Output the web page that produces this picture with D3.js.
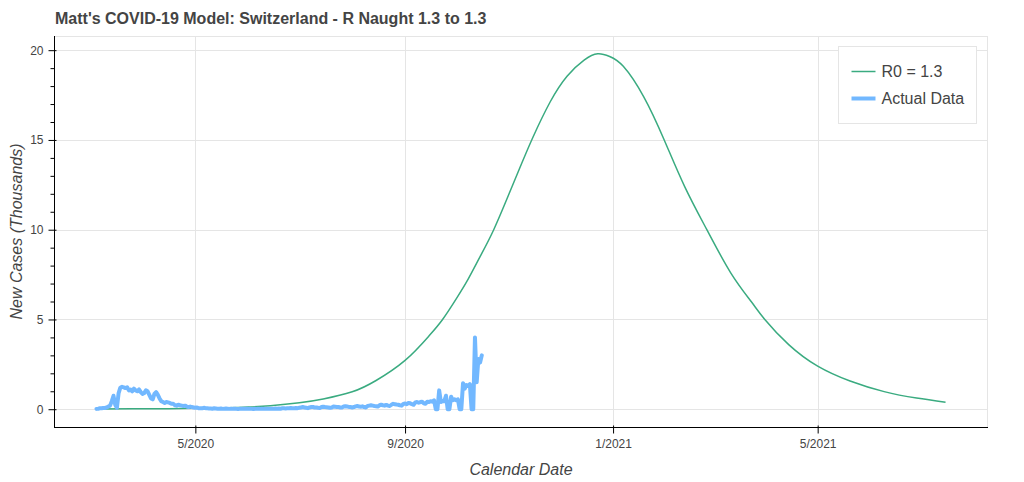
<!DOCTYPE html>
<html>
<head>
<meta charset="utf-8">
<script src="https://cdn.jsdelivr.net/npm/d3@7"></script>
<style>
  html, body { margin: 0; padding: 0; background: #fff; }
  svg { display: block; }
  text { font-family: "Liberation Sans", Arial, Helvetica, sans-serif; }
</style>
</head>
<body>
<svg id="chart" width="1024" height="482"></svg>
<script>
// ---------------- DATA ----------------
const titleText = "Matt's COVID-19 Model: Switzerland - R Naught 1.3 to 1.3";
const xLabel = "Calendar Date";
const yLabel = "New Cases (Thousands)";
const seriesNames = ["R0 = 1.3", "Actual Data"];

// Model curve (thousands of new cases)
const modelDates = [
  "2020-03-04","2020-03-25","2020-04-15","2020-05-01","2020-05-20","2020-06-01",
  "2020-06-14","2020-07-01","2020-07-15","2020-08-01","2020-08-15","2020-09-01",
  "2020-09-15","2020-09-23","2020-10-01","2020-10-08","2020-10-15","2020-10-23",
  "2020-11-01","2020-11-08","2020-11-15","2020-11-25","2020-12-05","2020-12-15",
  "2020-12-23","2020-12-30","2021-01-07","2021-01-19","2021-01-31","2021-02-12",
  "2021-02-25","2021-03-11","2021-03-23","2021-03-31","2021-04-14","2021-05-01",
  "2021-05-20","2021-06-09","2021-06-28","2021-07-15"
];
const modelValues = [
  0.01, 0.02, 0.03, 0.05, 0.08, 0.12,
  0.2, 0.36, 0.57, 0.97, 1.6, 2.72,
  4.08, 5.0, 6.15, 7.25, 8.5, 10.0,
  12.0, 13.6, 15.15, 17.1, 18.55, 19.45,
  19.8, 19.65, 19.1, 17.4, 15.0, 12.4,
  10.0, 7.6, 6.0, 5.0, 3.6, 2.4,
  1.57, 0.98, 0.62, 0.39
];

// Actual daily data (thousands), one value per day starting at actualStart
const actualStart = "2020-03-04";
const actualValues = [
  // March 4-31
  0.02,0.03,0.05,0.05,0.07,0.07,0.1,0.15,0.2,0.45,0.75,0.25,0.08,0.9,1.2,1.25,1.22,1.18,1.22,1.05,1.1,1.0,1.15,1.05,1.0,1.1,0.95,0.85,
  // April
  0.9,1.05,1.0,0.8,0.6,0.55,0.85,0.95,0.8,0.6,0.45,0.4,0.35,0.4,0.38,0.35,0.3,0.3,0.22,0.2,0.25,0.22,0.2,0.18,0.2,0.15,0.12,0.15,0.12,0.1,
  // May
  0.08,0.1,0.05,0.06,0.05,0.08,0.06,0.05,0.04,0.04,0.03,0.05,0.04,0.03,0.03,0.04,0.02,0.03,0.04,0.03,0.02,0.03,0.02,0.02,0.02,0.01,0.02,0.02,0.03,0.02,0.02,
  // June
  0.02,0.03,0.02,0.01,0.03,0.02,0.02,0.02,0.03,0.02,0.03,0.02,0.02,0.03,0.03,0.02,0.04,0.03,0.04,0.03,0.05,0.05,0.04,0.06,0.05,0.07,0.06,0.06,0.07,0.06,
  // July
  0.08,0.1,0.12,0.1,0.08,0.06,0.1,0.12,0.13,0.09,0.1,0.08,0.07,0.12,0.14,0.12,0.11,0.1,0.08,0.1,0.15,0.14,0.13,0.12,0.1,0.1,0.15,0.17,0.15,0.13,0.12,
  // August
  0.1,0.12,0.16,0.18,0.15,0.14,0.16,0.12,0.1,0.18,0.2,0.22,0.2,0.18,0.17,0.15,0.22,0.25,0.22,0.2,0.24,0.2,0.18,0.25,0.3,0.28,0.26,0.25,0.22,0.2,0.3,
  // September
  0.32,0.28,0.35,0.33,0.28,0.25,0.38,0.4,0.36,0.4,0.42,0.33,0.3,0.42,0.4,0.45,0.42,0.5,0.0,0.0,1.05,0.4,0.45,0.45,0.75,0.0,0.0,0.7,0.5,0.55,
  // October 1-16
  0.5,0.55,0.0,0.0,1.45,1.15,1.35,1.3,1.4,0.0,0.0,4.0,1.5,2.8,2.6,3.0
];

const xTickDates = ["2020-05-01","2020-09-01","2021-01-01","2021-05-01"];
const yMajorTicks = [0, 5, 10, 15, 20];

// ---------------- LAYOUT ----------------
const plot = { left: 54, right: 988, top: 36, bottom: 427 };
const colors = { model: "#3aab80", actual: "#72b8ff", grid: "#e5e5e5", text: "#444444" };

const parse = d3.utcParse("%Y-%m-%d");
const model = modelDates.map((d, i) => ({ date: parse(d), value: modelValues[i] }));
const start = parse(actualStart);
const actual = actualValues.map((v, i) => ({ date: d3.utcDay.offset(start, i), value: v }));

const allDates = model.map(d => d.date).concat(actual.map(d => d.date));
const allVals = model.map(d => d.value).concat(actual.map(d => d.value));
const [dMin, dMax] = d3.extent(allDates);
const [vMin, vMax] = d3.extent(allVals);
const dPad = (dMax - dMin) * 0.05;
const vPad = (vMax - vMin) * 0.05;

const x = d3.scaleUtc()
  .domain([new Date(+dMin - dPad), new Date(+dMax + dPad)])
  .range([plot.left, plot.right]);
const y = d3.scaleLinear()
  .domain([vMin - vPad, vMax + vPad])
  .range([plot.bottom, plot.top]);

const svg = d3.select("#chart");

// Title
svg.append("text")
  .attr("x", 55).attr("y", 24)
  .attr("font-size", 16).attr("font-weight", "bold")
  .attr("fill", colors.text)
  .text(titleText);

// Outline
svg.append("rect")
  .attr("x", plot.left + 0.5).attr("y", plot.top + 0.5)
  .attr("width", plot.right - plot.left - 1).attr("height", plot.bottom - plot.top)
  .attr("fill", "none").attr("stroke", colors.grid);

// Grid
const xTicks = xTickDates.map(parse);
svg.append("g").selectAll("line").data(xTicks).join("line")
  .attr("x1", d => Math.round(x(d)) + 0.5).attr("x2", d => Math.round(x(d)) + 0.5)
  .attr("y1", plot.top).attr("y2", plot.bottom)
  .attr("stroke", colors.grid);
svg.append("g").selectAll("line").data(yMajorTicks).join("line")
  .attr("x1", plot.left).attr("x2", plot.right)
  .attr("y1", d => Math.round(y(d)) + 0.5).attr("y2", d => Math.round(y(d)) + 0.5)
  .attr("stroke", colors.grid);

// Lines
svg.append("clipPath").attr("id", "clip").append("rect")
  .attr("x", plot.left).attr("y", plot.top)
  .attr("width", plot.right - plot.left).attr("height", plot.bottom - plot.top);

svg.append("path")
  .datum(model)
  .attr("clip-path", "url(#clip)")
  .attr("fill", "none").attr("stroke", colors.model).attr("stroke-width", 1.5)
  .attr("d", d3.line().x(d => x(d.date)).y(d => y(d.value)).curve(d3.curveNatural));

svg.append("path")
  .datum(actual)
  .attr("clip-path", "url(#clip)")
  .attr("fill", "none").attr("stroke", colors.actual).attr("stroke-width", 4)
  .attr("stroke-linejoin", "round").attr("stroke-linecap", "round")
  .attr("d", d3.line().x(d => x(d.date)).y(d => y(d.value)));

// X axis
const fmt = d => `${d.getUTCMonth() + 1}/${d.getUTCFullYear()}`;
const xAxis = svg.append("g")
  .attr("transform", `translate(0,${plot.bottom + 0.5})`)
  .call(d3.axisBottom(x).tickValues(xTicks).tickFormat(fmt).tickSizeInner(6).tickSizeOuter(0).tickPadding(6));
xAxis.select(".domain").attr("d", `M${plot.left},0H${plot.right}`).attr("stroke", "#000");
xAxis.selectAll(".tick line").attr("y1", -2).attr("y2", 6).attr("stroke", "#000");
xAxis.selectAll(".tick text").attr("font-size", 12).attr("fill", colors.text)
  .attr("font-family", "'Liberation Sans', Arial, sans-serif");

// Y axis
const yMinor = d3.range(Math.ceil(y.domain()[0]), Math.floor(y.domain()[1]) + 1).filter(v => v % 5 !== 0);
const yAxis = svg.append("g")
  .attr("transform", `translate(${plot.left + 0.5},0)`)
  .call(d3.axisLeft(y).tickValues(yMajorTicks).tickSizeInner(6).tickSizeOuter(0).tickPadding(5));
yAxis.select(".domain").attr("d", `M0,${plot.top}V${plot.bottom}`).attr("stroke", "#000");
yAxis.selectAll(".tick line").attr("x1", 2).attr("x2", -6).attr("stroke", "#000");
yAxis.selectAll(".tick text").attr("font-size", 12).attr("fill", colors.text)
  .attr("font-family", "'Liberation Sans', Arial, sans-serif");
const yMinorAxis = svg.append("g")
  .attr("transform", `translate(${plot.left + 0.5},0)`)
  .call(d3.axisLeft(y).tickValues(yMinor).tickSize(4).tickFormat(""));
yMinorAxis.select(".domain").remove();
yMinorAxis.selectAll(".tick line").attr("stroke", "#000");

// Axis labels
svg.append("text")
  .attr("x", (plot.left + plot.right) / 2).attr("y", 475)
  .attr("text-anchor", "middle").attr("font-size", 16).attr("font-style", "italic")
  .attr("fill", colors.text).text(xLabel);
svg.append("text")
  .attr("transform", `translate(22,${(plot.top + plot.bottom) / 2}) rotate(-90)`)
  .attr("text-anchor", "middle").attr("font-size", 16).attr("font-style", "italic")
  .attr("fill", colors.text).text(yLabel);

// Legend
const lg = svg.append("g").attr("transform", "translate(838.5,46.5)");
lg.append("rect").attr("width", 138).attr("height", 77)
  .attr("fill", "#fff").attr("stroke", colors.grid);
const legendItems = [
  { name: seriesNames[0], color: colors.model, width: 1.5 },
  { name: seriesNames[1], color: colors.actual, width: 4 }
];
const li = lg.selectAll("g.item").data(legendItems).join("g")
  .attr("transform", (d, i) => `translate(0,${25 + i * 27})`);
li.append("line").attr("x1", 13).attr("x2", 37).attr("y1", 0).attr("y2", 0)
  .attr("stroke", d => d.color).attr("stroke-width", d => d.width);
li.append("text").attr("x", 43).attr("y", 0).attr("dy", "0.35em")
  .attr("font-size", 16).attr("fill", colors.text).text(d => d.name);
</script>
</body>
</html>
